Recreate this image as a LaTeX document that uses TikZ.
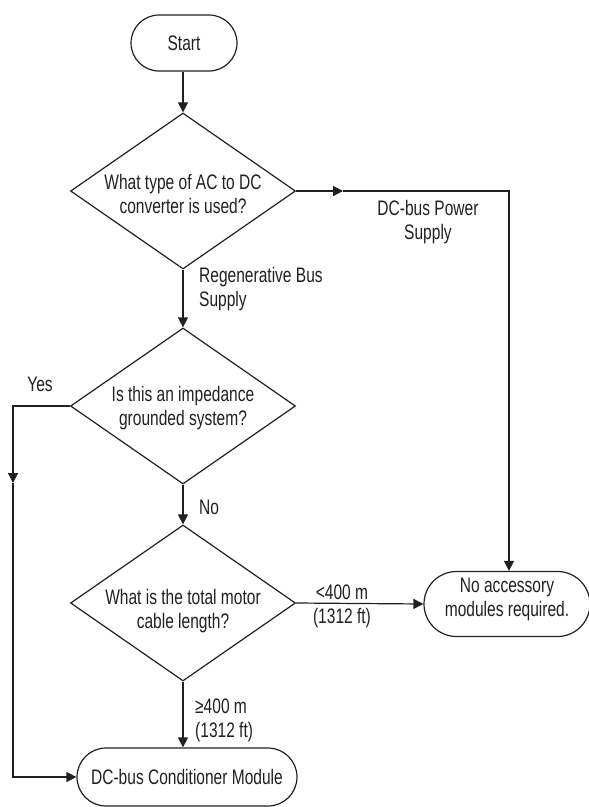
\documentclass[tikz,border=0pt]{standalone}
\usepackage{fontspec}
\setmainfont[FakeStretch=0.74]{Liberation Sans}
\usetikzlibrary{shapes.geometric,shapes.misc,arrows.meta}
\definecolor{ink}{HTML}{231F20}
\tikzset{
  x=1pt,y=-1pt,
  every node/.style={font=\fontsize{21}{24}\selectfont,text=ink},
  term/.style={draw=ink,line width=1.2pt,rounded rectangle,inner sep=0pt},
  dia/.style={draw=ink,line width=1.2pt,diamond,inner sep=0pt,minimum width=225pt,minimum height=156pt},
  txt/.style={align=center,inner sep=0pt},
  lbl/.style={align=left,inner sep=0pt,anchor=west},
  conn/.style={draw=ink,line width=1.2pt},
  tip/.style={-{Triangle[width=10pt,length=10pt]}},
}
\begin{document}
\begin{tikzpicture}
\useasboundingbox (0,0) rectangle (589,807);
% nodes
\node[term,minimum width=106pt,minimum height=56pt] (start) at (184,43) {};
\node[txt] (starttxt) at (start) {Start};
\node[dia] (d1) at (183,191) {};
\node[txt] (d1t) at (183,194) {What type of AC to DC\\converter is used?};
\node[dia] (d2) at (183,406) {};
\node[txt] (d2t) at (183,408) {Is this an impedance\\grounded system?};
\node[dia] (d3) at (183,603) {};
\node[txt] (d3t) at (183,611) {What is the total motor\\cable length?};
\node[term,minimum width=166pt,minimum height=65pt] (na) at (507,604) {};
\node[txt] (natxt) at (507,599) {No accessory\\modules required.};
\node[term,minimum width=220pt,minimum height=58pt] (dcb) at (187,777) {};
\node[txt] (dcbtxt) at (dcb) {DC-bus Conditioner Module};
% helper coordinates
\coordinate (r1) at (343,191);
\coordinate (c1) at (509,191);
\coordinate (y1) at (13,406);
\coordinate (ym) at (13,483);
\coordinate (y2) at (13,777);
% connectors
\draw[conn,tip] (start.south -| d1.north) -- (d1.north);
\draw[conn,tip] (d1.south) -- (d2.north);
\draw[conn,tip] (d2.south) -- (d3.north);
\draw[conn,tip] (d3.south) -- (d3.south |- dcb.north);
\draw[conn,tip] (d3.east) -- (na.west);
\draw[conn,tip] (d1.east) -- (r1);
\draw[conn,tip] (r1) -- (c1) -- (c1 |- na.north);
\draw[conn,tip] (d2.west) -- (y1) -- (ym);
\draw[conn,tip] (ym) -- (y2) -- (dcb.west);
% labels
\node[txt] (lps) at (428,222) {DC-bus Power\\Supply};
\node[lbl] (lrb) at (199,289) {Regenerative Bus\\Supply};
\node[txt] (lyes) at (40,384) {Yes};
\node[lbl] (lno) at (199,507) {No};
\node[txt] (llt) at (342,606) {<400 m\\(1312 ft)};
\node[lbl] (lge) at (195,720) {≥400 m\\(1312 ft)};
\end{tikzpicture}
\end{document}
